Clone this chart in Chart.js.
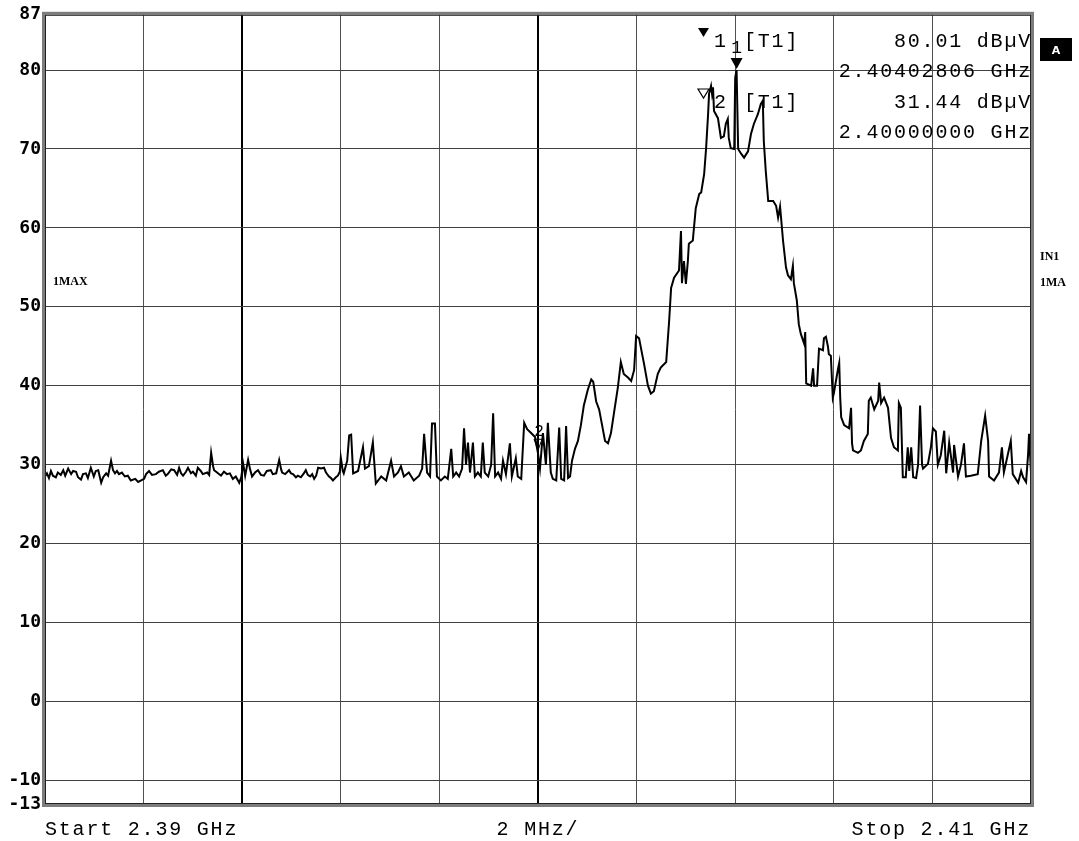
<!DOCTYPE html>
<html>
<head>
<meta charset="utf-8">
<script src="https://cdn.jsdelivr.net/npm/chart.js@4.4.1/dist/chart.umd.min.js"></script>
<style>
  html, body { margin: 0; padding: 0; background: #fff; }
  #wrap { width: 1079px; height: 841px; position: relative; }
</style>
</head>
<body>
<div id="wrap"><canvas id="spectrum"></canvas></div>
<script>
// trace 1 (max hold), frequency in MHz, level in dBµV
// lower noise floor, 2390 .. 2396 MHz
const lowFreq = [
  2390.00, 2390.04, 2390.08, 2390.12, 2390.16, 2390.22, 2390.26, 2390.32, 2390.37, 2390.41,
  2390.47, 2390.53, 2390.57, 2390.63, 2390.67, 2390.73, 2390.77, 2390.83, 2390.87, 2390.93,
  2390.99, 2391.03, 2391.08, 2391.14, 2391.18, 2391.24, 2391.28, 2391.34, 2391.38, 2391.42,
  2391.46, 2391.50, 2391.56, 2391.62, 2391.68, 2391.74, 2391.83, 2391.89, 2391.95, 2392.01,
  2392.05, 2392.11, 2392.17, 2392.25, 2392.31, 2392.39, 2392.45, 2392.49, 2392.56, 2392.62,
  2392.68, 2392.72, 2392.76, 2392.80, 2392.86, 2392.90, 2392.96, 2393.00, 2393.06, 2393.10,
  2393.16, 2393.20, 2393.29, 2393.33, 2393.37, 2393.41, 2393.43, 2393.49, 2393.57, 2393.63,
  2393.69, 2393.75, 2393.81, 2393.87, 2393.94, 2393.98, 2394.02, 2394.06, 2394.12, 2394.16,
  2394.20, 2394.26, 2394.32, 2394.38, 2394.44, 2394.50, 2394.58, 2394.62, 2394.69, 2394.75,
  2394.79, 2394.81, 2394.87, 2394.95, 2394.99, 2395.03, 2395.09, 2395.13, 2395.19, 2395.25,
  2395.29, 2395.33, 2395.38, 2395.42, 2395.46, 2395.50, 2395.54, 2395.60, 2395.66, 2395.70,
  2395.76, 2395.80, 2395.84, 2395.90, 2395.94, 2395.98, 2396.00, 2396.04, 2396.06
];
const lowLevel = [
  28.5, 28.9, 28.3, 29.2, 28.6, 28.4, 29.0, 28.7, 29.3, 28.6,
  29.5, 28.8, 29.2, 29.1, 28.4, 28.1, 28.8, 28.9, 28.3, 29.6,
  28.5, 29.2, 29.3, 27.7, 28.4, 28.9, 28.6, 30.5, 29.3, 28.9,
  29.2, 28.8, 29.0, 28.5, 28.6, 28.0, 28.2, 27.8, 28.0, 28.2,
  28.8, 29.2, 28.7, 28.8, 29.1, 29.3, 28.6, 28.8, 29.4, 29.3,
  28.7, 29.6, 28.9, 28.6, 29.1, 29.6, 28.9, 29.1, 28.6, 29.6,
  29.2, 28.8, 29.0, 28.7, 31.5, 29.8, 29.3, 29.0, 28.6, 29.1,
  28.8, 28.9, 28.2, 28.5, 27.7, 28.4, 30.1, 28.6, 30.6, 29.4,
  28.5, 29.0, 29.3, 28.7, 28.6, 29.2, 29.3, 28.8, 28.9, 30.6,
  29.4, 29.0, 28.8, 29.3, 28.9, 28.8, 28.4, 28.6, 28.4, 28.9,
  29.3, 28.7, 28.5, 28.8, 28.2, 28.6, 29.6, 29.5, 29.6, 29.0,
  28.5, 28.3, 28.0, 28.4, 28.6, 29.1, 30.9, 29.2, 28.9
];
// spurs, carrier and upper floor, 2396.1 .. 2410 MHz
const bandFreq = [
  2396.13, 2396.17, 2396.21, 2396.25, 2396.35, 2396.45, 2396.49, 2396.57,
  2396.65, 2396.71, 2396.82, 2396.92, 2397.02, 2397.08, 2397.16, 2397.22, 2397.28, 2397.38,
  2397.48, 2397.59, 2397.65, 2397.69, 2397.75, 2397.81, 2397.85, 2397.91, 2397.95, 2398.03,
  2398.11, 2398.17, 2398.24, 2398.28, 2398.34, 2398.40, 2398.46, 2398.50, 2398.54, 2398.58,
  2398.62, 2398.68, 2398.72, 2398.78, 2398.84, 2398.88, 2398.92, 2398.99, 2399.05, 2399.09,
  2399.13, 2399.19, 2399.25, 2399.29, 2399.35, 2399.43, 2399.47, 2399.55, 2399.59, 2399.66,
  2399.72, 2399.78, 2399.86, 2399.94, 2400.00, 2400.04, 2400.10, 2400.16, 2400.20, 2400.26,
  2400.30, 2400.37, 2400.43, 2400.47, 2400.53, 2400.57, 2400.61, 2400.65, 2400.69, 2400.75,
  2400.81, 2400.87, 2400.93, 2401.01, 2401.08, 2401.12, 2401.18, 2401.24, 2401.30, 2401.36,
  2401.42, 2401.48, 2401.54, 2401.62, 2401.68, 2401.74, 2401.83, 2401.89, 2401.95, 2401.99,
  2402.05, 2402.15, 2402.23, 2402.29, 2402.35, 2402.43, 2402.49, 2402.60, 2402.66, 2402.70,
  2402.76, 2402.86, 2402.90, 2402.92, 2402.96, 2403.00, 2403.04, 2403.06, 2403.14, 2403.20,
  2403.27, 2403.31, 2403.37, 2403.41, 2403.45, 2403.47, 2403.51, 2403.53, 2403.55, 2403.57,
  2403.65, 2403.71, 2403.77, 2403.81, 2403.85, 2403.87, 2403.91, 2403.98, 2404.00, 2404.028,
  2404.06, 2404.12, 2404.18, 2404.26, 2404.32, 2404.38, 2404.46, 2404.52, 2404.56, 2404.58,
  2404.62, 2404.67, 2404.77, 2404.83, 2404.87, 2404.91, 2404.93, 2404.97, 2405.03, 2405.07,
  2405.13, 2405.17, 2405.19, 2405.25, 2405.29, 2405.33, 2405.40, 2405.42, 2405.44, 2405.54,
  2405.58, 2405.60, 2405.66, 2405.68, 2405.70, 2405.78, 2405.80, 2405.84, 2405.88, 2405.90,
  2405.94, 2405.98, 2406.00, 2406.09, 2406.11, 2406.13, 2406.15, 2406.21, 2406.31, 2406.35,
  2406.37, 2406.39, 2406.49, 2406.55, 2406.61, 2406.69, 2406.71, 2406.75, 2406.82, 2406.90,
  2406.92, 2406.96, 2407.02, 2407.10, 2407.16, 2407.22, 2407.30, 2407.32, 2407.36, 2407.40,
  2407.46, 2407.50, 2407.53, 2407.57, 2407.61, 2407.67, 2407.71, 2407.75, 2407.79, 2407.81,
  2407.91, 2407.97, 2408.01, 2408.07, 2408.11, 2408.17, 2408.24, 2408.28, 2408.34, 2408.42,
  2408.44, 2408.52, 2408.58, 2408.64, 2408.68, 2408.78, 2408.92, 2408.99, 2409.07, 2409.13,
  2409.15, 2409.25, 2409.35, 2409.41, 2409.45, 2409.59, 2409.63, 2409.74, 2409.80, 2409.84,
  2409.90, 2409.94, 2409.96, 2410.00
];
const bandLevel = [
  30.5, 33.7, 33.8, 28.9, 29.2, 32.2, 29.5, 29.8,
  32.8, 27.6, 28.5, 28.0, 30.5, 28.5, 29.0, 29.8, 28.5, 29.0,
  28.0, 28.6, 29.5, 33.9, 29.0, 28.5, 35.2, 35.2, 28.5, 28.0,
  28.5, 28.2, 32.0, 28.5, 29.0, 28.5, 29.5, 34.6, 30.0, 32.8,
  29.0, 32.8, 28.5, 29.0, 28.5, 32.8, 29.0, 28.5, 30.0, 36.5,
  28.5, 29.0, 28.2, 30.5, 28.8, 32.7, 28.5, 30.8, 28.5, 28.2,
  35.3, 34.5, 34.0, 33.5, 31.44, 29.5, 34.0, 30.0, 35.3, 29.0,
  28.2, 28.0, 34.7, 28.2, 28.0, 34.9, 28.3, 28.5, 30.5, 32.0,
  33.0, 35.0, 37.5, 39.5, 40.8, 40.5, 38.0, 37.0, 35.0, 33.0,
  32.7, 34.0, 36.5, 39.8, 43.0, 41.5, 41.0, 40.6, 42.0, 46.3,
  46.0, 42.8, 40.0, 39.0, 39.3, 41.5, 42.3, 43.0, 48.2, 52.4,
  53.7, 54.6, 59.6, 53.0, 55.8, 52.9, 55.8, 58.0, 58.4, 62.5,
  64.3, 64.5, 66.8, 70.1, 74.4, 77.0, 78.0, 77.0, 77.8, 74.8,
  73.9, 71.4, 71.6, 73.2, 73.8, 71.4, 70.1, 70.0, 79.0, 80.01,
  70.0, 69.4, 68.9, 69.7, 71.9, 73.2, 74.4, 75.7, 76.1, 71.0,
  67.2, 63.4, 63.4, 62.8, 61.3, 62.7, 61.3, 58.4, 55.0, 54.0,
  53.5, 55.2, 53.0, 50.8, 47.8, 46.6, 45.3, 46.8, 40.3, 40.0,
  42.2, 40.0, 40.0, 42.3, 44.7, 44.5, 46.0, 46.2, 45.0, 44.0,
  43.8, 38.5, 39.0, 42.3, 42.9, 38.5, 36.0, 35.0, 34.6, 37.2,
  32.7, 31.8, 31.5, 31.8, 33.0, 33.9, 38.1, 38.5, 37.0, 38.1,
  40.4, 37.8, 38.5, 37.2, 33.4, 32.2, 31.8, 37.8, 37.2, 28.4,
  28.4, 32.2, 29.2, 32.2, 28.4, 28.3, 30.0, 37.5, 30.0, 29.5,
  30.1, 32.2, 34.6, 34.2, 30.0, 31.2, 34.3, 28.9, 32.8, 29.0,
  32.5, 28.5, 30.0, 32.7, 28.5, 28.6, 28.8, 33.0, 36.2, 33.0,
  28.5, 28.0, 29.0, 32.2, 29.0, 33.0, 28.8, 27.7, 29.2, 28.4,
  27.8, 31.2, 33.9, 29.0
];

const yTicks = [-13, -10, 0, 10, 20, 30, 40, 50, 60, 70, 80, 87];
const startMHz = 2390;
const stopMHz = 2410;
const spanPerDiv = 2;

// markers: frequency (MHz) and level (dBµV)
const markerNames = ['1', '2'];
const markerFreq = [2404.02806, 2400.0];
const markerLevel = [80.01, 31.44];

const textFont = "20px 'Liberation Mono', monospace";

function drawText(ctx, s, x, y, align, font, spacing) {
  ctx.font = font;
  ctx.textAlign = align;
  ctx.textBaseline = 'alphabetic';
  ctx.letterSpacing = spacing || '0px';
  ctx.fillText(s, x, y);
  ctx.letterSpacing = '0px';
}

const analyzerDecor = {
  id: 'analyzerDecor',
  afterDatasetsDraw(chart) {
    const ctx = chart.ctx;
    const a = chart.chartArea;
    const xs = chart.scales.x, ys = chart.scales.y;
    ctx.save();

    // double frame around the graticule
    ctx.strokeStyle = '#7c7c7c';
    ctx.lineWidth = 3;
    ctx.strokeRect(a.left - 1.5, a.top - 1.5, a.right - a.left + 3, a.bottom - a.top + 3);
    ctx.strokeStyle = '#222';
    ctx.lineWidth = 1;
    ctx.strokeRect(a.left + 0.5, a.top + 0.5, a.right - a.left - 1, a.bottom - a.top - 1);

    ctx.fillStyle = '#000';
    ctx.strokeStyle = '#000';

    // marker symbols on the trace
    markerFreq.forEach((f, i) => {
      const px = xs.getPixelForValue(f);
      const py = ys.getPixelForValue(markerLevel[i]);
      if (i === 0) {
        ctx.beginPath();
        ctx.moveTo(px - 6, py - 12);
        ctx.lineTo(px + 6, py - 12);
        ctx.lineTo(px, py - 1);
        ctx.closePath();
        ctx.fill();
        drawText(ctx, markerNames[i], px, py - 17, 'center', "18px 'Liberation Mono', monospace");
      } else {
        ctx.lineWidth = 1;
        ctx.beginPath();
        ctx.moveTo(px - 4, py - 14);
        ctx.lineTo(px + 4, py - 14);
        ctx.lineTo(px, py - 3);
        ctx.closePath();
        ctx.stroke();
        drawText(ctx, markerNames[i], px + 1, py - 17, 'center', "16px 'Liberation Mono', monospace");
      }
    });

    // marker readout block
    const rows = [47, 108];
    markerFreq.forEach((f, i) => {
      const base = rows[i];
      ctx.beginPath();
      ctx.moveTo(698, base - 19);
      ctx.lineTo(709, base - 19);
      ctx.lineTo(703.5, base - 10);
      ctx.closePath();
      if (i === 0) ctx.fill();
      else { ctx.lineWidth = 1.2; ctx.stroke(); }
      drawText(ctx, markerNames[i], 714, base, 'left', textFont);
      drawText(ctx, '[T1]', 744, base, 'left', textFont, '1.8px');
      drawText(ctx, markerLevel[i].toFixed(2) + ' dBµV', a.right + 1, base, 'right', textFont, '1.8px');
      drawText(ctx, (f / 1000).toFixed(8) + ' GHz', a.right + 1, base + 30, 'right', textFont, '1.8px');
    });

    // side annotations
    ctx.fillRect(1040, 38, 32, 23);
    ctx.fillStyle = '#fff';
    drawText(ctx, 'A', 1056, 54, 'center', "bold 11px 'DejaVu Sans', sans-serif");
    ctx.fillStyle = '#000';
    drawText(ctx, 'IN1', 1040, 260, 'left', "bold 12px 'Liberation Serif', serif");
    drawText(ctx, '1MA', 1040, 286, 'left', "bold 12px 'Liberation Serif', serif");
    drawText(ctx, '1MAX', 53, 285, 'left', "bold 12px 'Liberation Serif', serif");

    // frequency axis captions
    drawText(ctx, 'Start ' + (startMHz / 1000).toFixed(2) + ' GHz', 45, 835, 'left', textFont, '1.8px');
    drawText(ctx, spanPerDiv + ' MHz/', (a.left + a.right) / 2, 835, 'center', textFont, '1.8px');
    drawText(ctx, 'Stop ' + (stopMHz / 1000).toFixed(2) + ' GHz', a.right, 835, 'right', textFont, '1.8px');

    ctx.restore();
  }
};

const points = lowFreq.concat(bandFreq).map((f, i) => ({ x: f, y: lowLevel.concat(bandLevel)[i] }));

new Chart(document.getElementById('spectrum'), {
  type: 'line',
  data: {
    datasets: [{
      data: points,
      borderColor: '#000',
      borderWidth: 2,
      pointRadius: 0,
      tension: 0,
      fill: false
    }]
  },
  options: {
    responsive: true,
    maintainAspectRatio: false,
    animation: false,
    devicePixelRatio: 1,
    layout: { padding: { left: 1, top: 14, right: 48, bottom: 37 } },
    plugins: { legend: { display: false }, tooltip: { enabled: false } },
    scales: {
      x: {
        type: 'linear',
        min: startMHz,
        max: stopMHz,
        ticks: { display: false, stepSize: spanPerDiv },
        border: { display: false },
        grid: {
          drawTicks: false,
          color: c => (c.tick.value === startMHz || c.tick.value === stopMHz) ? 'rgba(0,0,0,0)'
            : (c.tick.value === 2394 || c.tick.value === 2400) ? '#000' : '#505050',
          lineWidth: c => (c.tick.value === 2394 || c.tick.value === 2400) ? 2 : 1
        },
        afterFit: s => { s.height = 0; }
      },
      y: {
        min: -13,
        max: 87,
        afterBuildTicks: s => { s.ticks = yTicks.map(v => ({ value: v })); },
        ticks: {
          color: '#000',
          padding: 4,
          font: { family: "'DejaVu Sans Mono', monospace", size: 18, weight: 'bold' }
        },
        border: { display: false },
        grid: {
          drawTicks: false,
          color: c => (c.tick.value === -13 || c.tick.value === 87) ? 'rgba(0,0,0,0)' : '#404040',
          lineWidth: 1
        },
        afterFit: s => { s.width = 44; }
      }
    }
  },
  plugins: [analyzerDecor]
});
</script>
</body>
</html>
